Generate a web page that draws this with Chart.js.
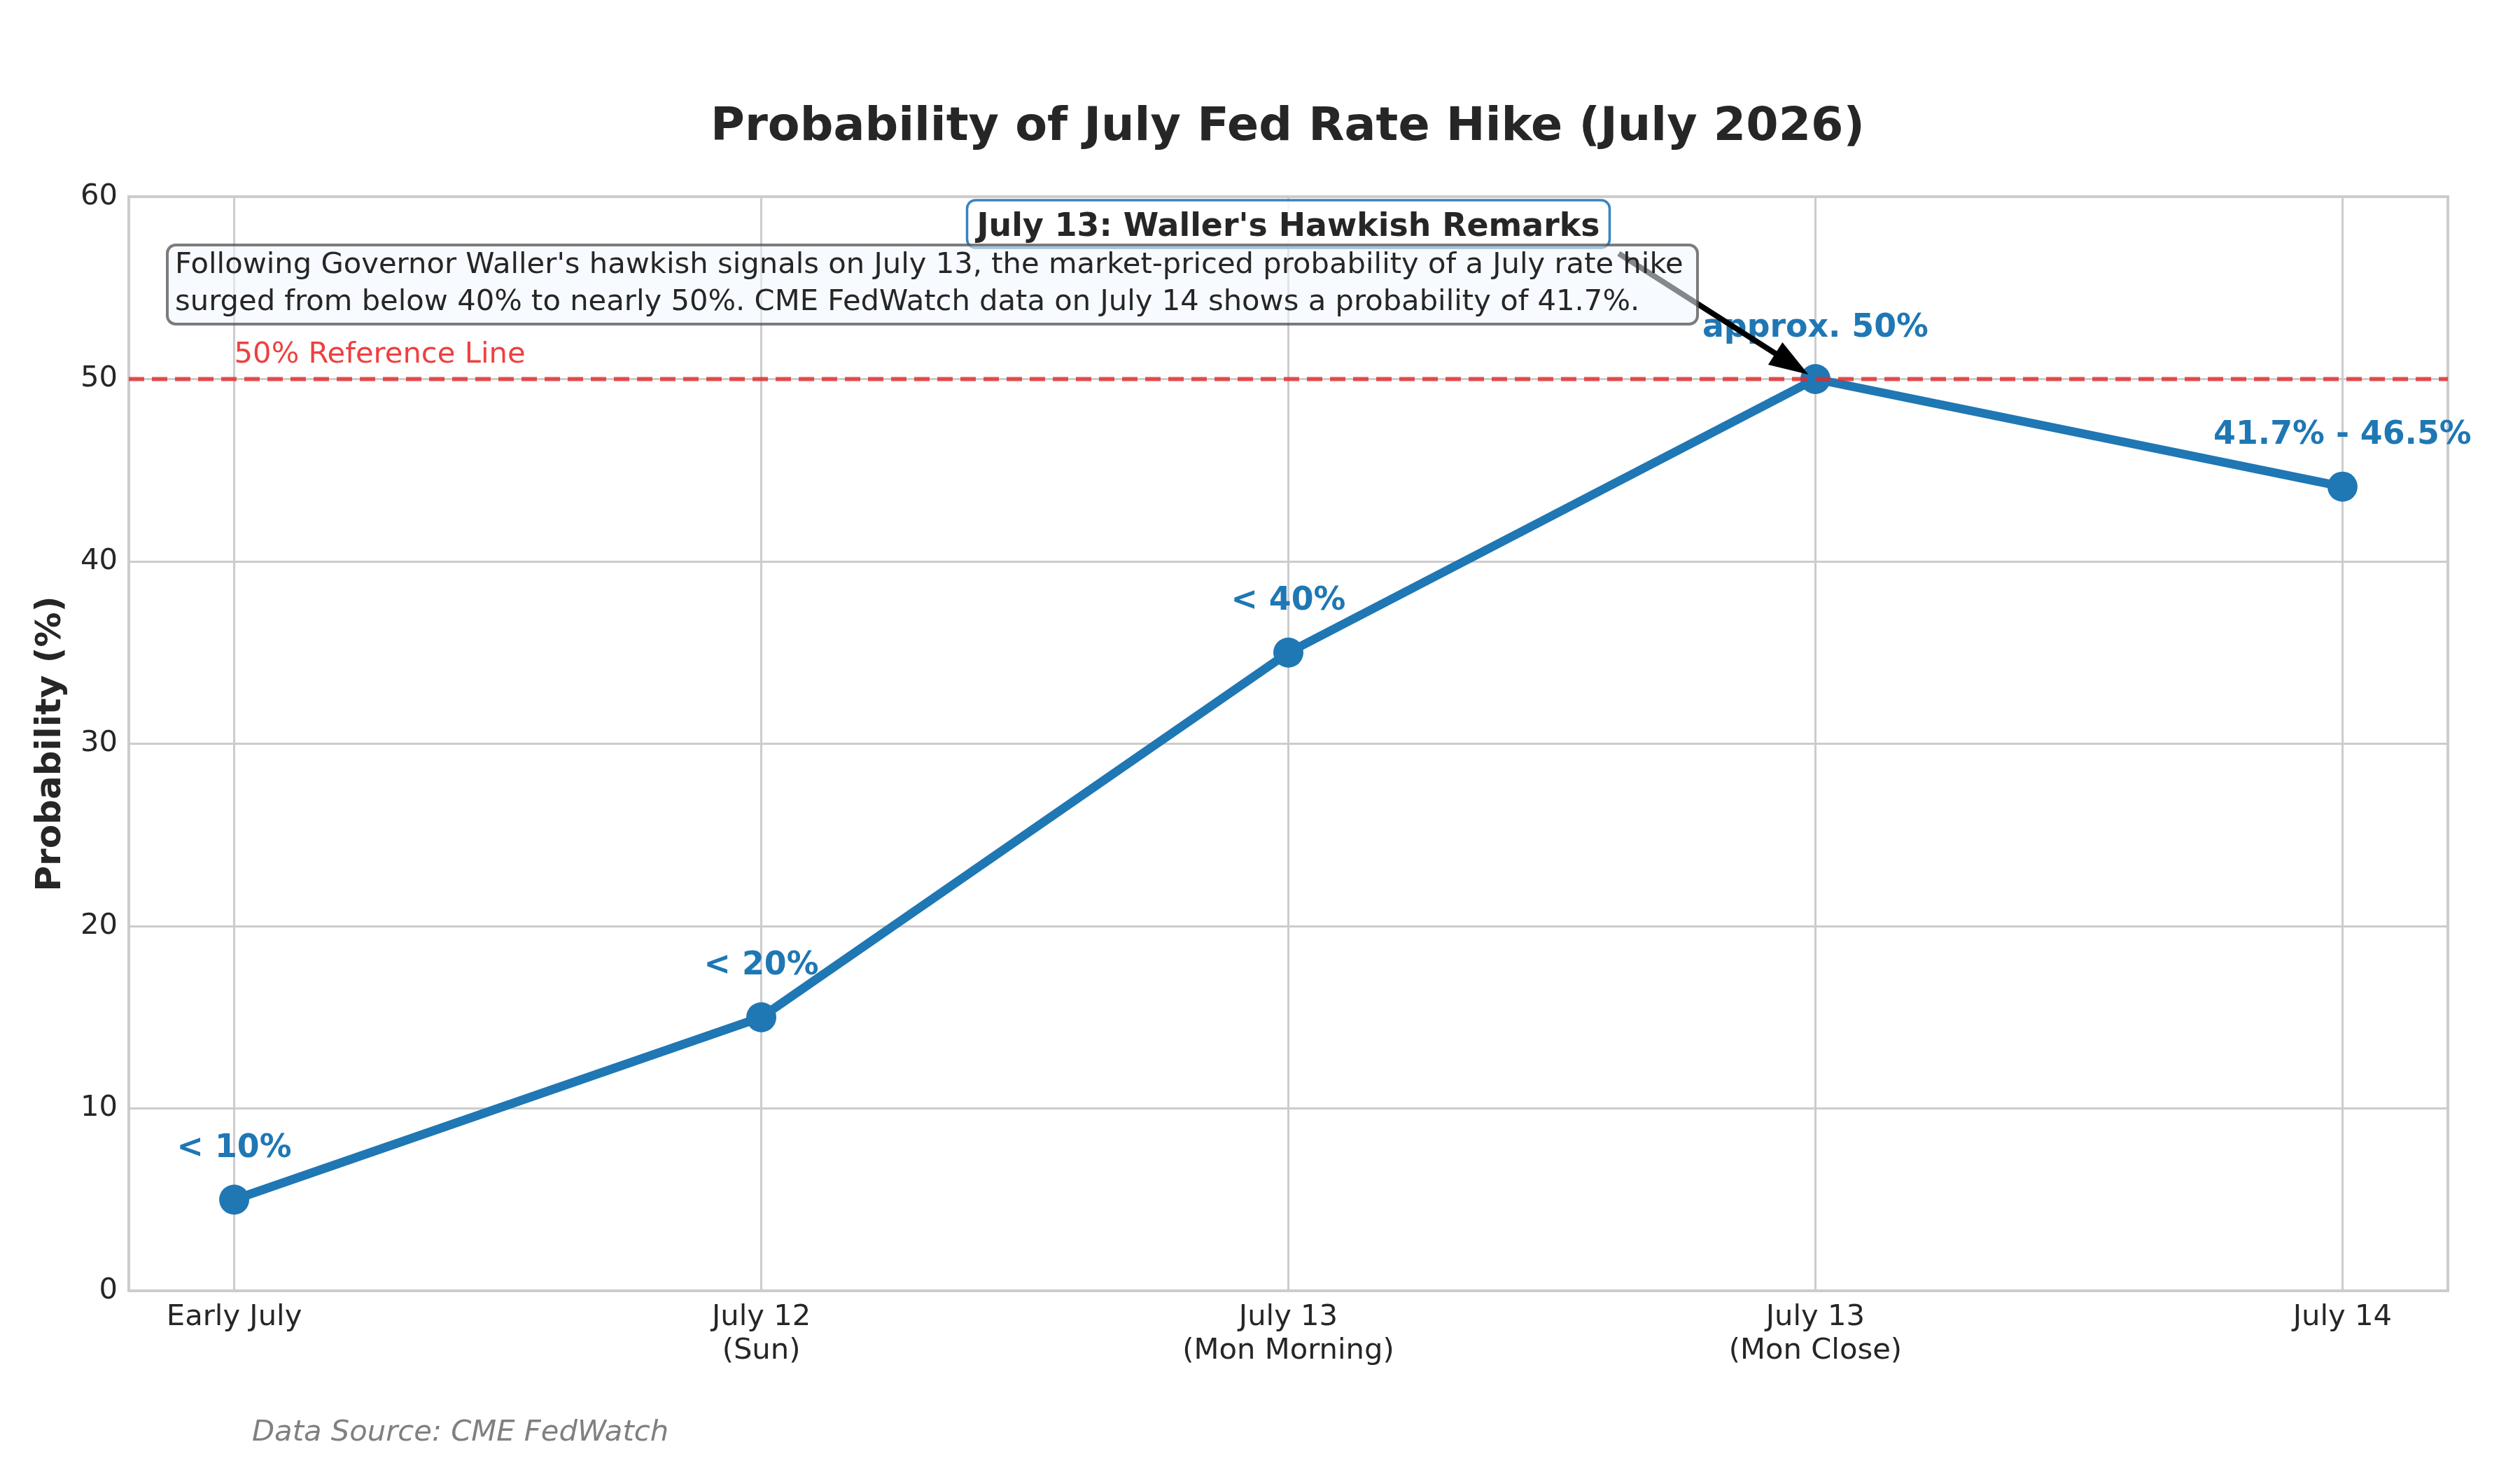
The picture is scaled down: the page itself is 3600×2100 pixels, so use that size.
<!DOCTYPE html>
<html><head><meta charset="utf-8">
<script src="https://cdn.jsdelivr.net/npm/chart.js@4.4.1/dist/chart.umd.min.js"></script>
<style>html,body{margin:0;padding:0;background:#fff}canvas{display:block}</style>
</head><body>
<canvas id="c" width="3600" height="2100" style="width:3600px;height:2100px"></canvas>
<script>
const categories = [["Early July"], ["July 12", "(Sun)"], ["July 13", "(Mon Morning)"], ["July 13", "(Mon Close)"], ["July 14"]];
const probabilities = [5, 15, 35, 50, 44.1];
const pointLabels = ["< 10%", "< 20%", "< 40%", "approx. 50%", "41.7% - 46.5%"];
const yTickStep = 10;
const yMin = 0, yMax = 60;
const referenceValue = 50;
const referenceLabel = "50% Reference Line";
const titleText = "Probability of July Fed Rate Hike (July 2026)";
const yAxisTitle = "Probability (%)";
const eventLabel = "July 13: Waller's Hawkish Remarks";
const noteLines = ["Following Governor Waller's hawkish signals on July 13, the market-priced probability of a July rate hike",
                   "surged from below 40% to nearly 50%. CME FedWatch data on July 14 shows a probability of 41.7%."];
const sourceText = "Data Source: CME FedWatch";

const FONT = "'DejaVu Sans', sans-serif";
const TXT = '#262626';
const BLUE = '#1f77b4';

function roundRect(ctx, x, y, w, h, r) {
  ctx.beginPath();
  ctx.moveTo(x + r, y);
  ctx.lineTo(x + w - r, y);
  ctx.arcTo(x + w, y, x + w, y + r, r);
  ctx.lineTo(x + w, y + h - r);
  ctx.arcTo(x + w, y + h, x + w - r, y + h, r);
  ctx.lineTo(x + r, y + h);
  ctx.arcTo(x, y + h, x, y + h - r, r);
  ctx.lineTo(x, y + r);
  ctx.arcTo(x, y, x + r, y, r);
  ctx.closePath();
}

const decor = {
  id: 'decor',
  beforeDatasetsDraw(chart) {
    const ctx = chart.ctx, a = chart.chartArea;
    ctx.save();
    ctx.strokeStyle = '#cccccc';
    ctx.lineWidth = 4;
    ctx.strokeRect(a.left, a.top, a.right - a.left, a.bottom - a.top);
    ctx.restore();
  },
  afterDatasetsDraw(chart) {
    const ctx = chart.ctx, a = chart.chartArea;
    const xs = chart.scales.x, ys = chart.scales.y;
    const pts = chart.getDatasetMeta(0).data;
    ctx.save();
    // reference line
    const ry = ys.getPixelForValue(referenceValue);
    ctx.strokeStyle = 'rgba(228,40,40,0.8)';
    ctx.lineWidth = 6;
    ctx.setLineDash([22, 11]);
    ctx.beginPath(); ctx.moveTo(a.left, ry); ctx.lineTo(a.right, ry); ctx.stroke();
    ctx.setLineDash([]);
    // reference label
    ctx.fillStyle = 'rgba(235,30,30,0.85)';
    ctx.font = `41.7px ${FONT}`;
    ctx.textAlign = 'left'; ctx.textBaseline = 'alphabetic';
    ctx.fillText(referenceLabel, xs.getPixelForValue(0), ys.getPixelForValue(referenceValue + 1) + 3);
    // point labels
    ctx.fillStyle = BLUE;
    ctx.font = `bold 45.8px ${FONT}`;
    ctx.textAlign = 'center';
    pts.forEach((p, i) => ctx.fillText(pointLabels[i], p.x, p.y - 61));

    // event title box
    const bx = xs.getPixelForValue(2), by = ys.getPixelForValue(58.5);
    ctx.font = `bold 45.8px ${FONT}`;
    const tw = ctx.measureText(eventLabel).width;
    const bw = tw + 28, bh = 68;
    ctx.fillStyle = 'rgba(255,255,255,0.85)';
    roundRect(ctx, bx - bw / 2, by - bh / 2, bw, bh, 12);
    ctx.fill();
    ctx.strokeStyle = '#3a83bd';
    ctx.lineWidth = 3.5;
    ctx.stroke();
    ctx.fillStyle = TXT;
    ctx.textAlign = 'center'; ctx.textBaseline = 'alphabetic';
    ctx.fillText(eventLabel, bx, by + 17);

    // arrow
    const target = pts[3];
    const sx = bx + bw / 2 + 13, sy = by + bh / 2 + 8;
    let dx = target.x - sx, dy = target.y - sy;
    const len = Math.hypot(dx, dy); dx /= len; dy /= len;
    const tx = target.x - dx * 12, ty = target.y - dy * 12;
    const hl = 56, hw = 19;
    const bxh = tx - dx * hl, byh = ty - dy * hl;
    ctx.strokeStyle = '#000'; ctx.fillStyle = '#000';
    ctx.lineWidth = 8;
    ctx.beginPath(); ctx.moveTo(sx, sy); ctx.lineTo(bxh + dx * 5, byh + dy * 5); ctx.stroke();
    ctx.beginPath();
    ctx.moveTo(tx, ty);
    ctx.lineTo(bxh - dy * hw, byh + dx * hw);
    ctx.lineTo(bxh + dy * hw, byh - dx * hw);
    ctx.closePath(); ctx.fill();

    // note box
    const nx = a.left + 55, ny = a.top + 69, nw = 2186, nh = 113;
    roundRect(ctx, nx, ny, nw, nh, 12);
    ctx.fillStyle = 'rgba(240,248,255,0.55)';
    ctx.fill();
    ctx.strokeStyle = 'rgba(80,80,80,0.75)';
    ctx.lineWidth = 4;
    ctx.stroke();
    ctx.fillStyle = TXT;
    ctx.font = `41.7px ${FONT}`;
    ctx.textAlign = 'left';
    ctx.fillText(noteLines[0], nx + 11, ny + 40);
    ctx.fillText(noteLines[1], nx + 11, ny + 93);
    ctx.restore();
  },
  afterDraw(chart) {
    const ctx = chart.ctx, a = chart.chartArea;
    ctx.save();
    ctx.fillStyle = TXT;
    ctx.font = `bold 66.7px ${FONT}`;
    ctx.textAlign = 'center'; ctx.textBaseline = 'alphabetic';
    ctx.fillText(titleText, (a.left + a.right) / 2 - 1, 200);
    ctx.save();
    ctx.translate(73, (a.top + a.bottom) / 2);
    ctx.rotate(-Math.PI / 2);
    ctx.font = `bold 50px ${FONT}`;
    ctx.textBaseline = 'middle';
    ctx.fillText(yAxisTitle, 0, 0);
    ctx.restore();
    ctx.fillStyle = '#808080';
    ctx.font = `italic 41.7px ${FONT}`;
    ctx.textAlign = 'left';
    ctx.fillText(sourceText, 360, 2058);
    ctx.restore();
  }
};

new Chart(document.getElementById('c'), {
  type: 'line',
  data: {
    datasets: [{
      data: probabilities.map((v, i) => ({ x: i, y: v })),
      borderColor: BLUE,
      backgroundColor: BLUE,
      borderWidth: 12.5,
      pointRadius: 21.5,
      pointBorderWidth: 0,
      pointBackgroundColor: BLUE,
      tension: 0,
      fill: false
    }]
  },
  options: {
    responsive: false,
    devicePixelRatio: 1,
    animation: false,
    events: [],
    layout: { padding: { top: 281, right: 103, bottom: 0, left: 0 } },
    plugins: { legend: { display: false }, title: { display: false }, tooltip: { enabled: false } },
    scales: {
      x: {
        type: 'linear', min: -0.2, max: 4.2,
        afterBuildTicks: axis => { axis.ticks = categories.map((_, i) => ({ value: i })); },
        afterFit: s => { s.height = 256; },
        ticks: {
          callback: v => categories[v],
          font: { family: FONT, size: 41.7, lineHeight: 1.15 },
          color: TXT, padding: 14, maxRotation: 0, autoSkip: false
        },
        grid: { color: '#cccccc', lineWidth: 3, drawTicks: false },
        border: { display: false }
      },
      y: {
        min: yMin, max: yMax,
        afterFit: s => { s.width = 184; },
        ticks: { stepSize: yTickStep, font: { family: FONT, size: 41.7 }, color: TXT, padding: 16 },
        grid: { color: '#cccccc', lineWidth: 3, drawTicks: false },
        border: { display: false }
      }
    }
  },
  plugins: [decor]
});
</script>
</body></html>
